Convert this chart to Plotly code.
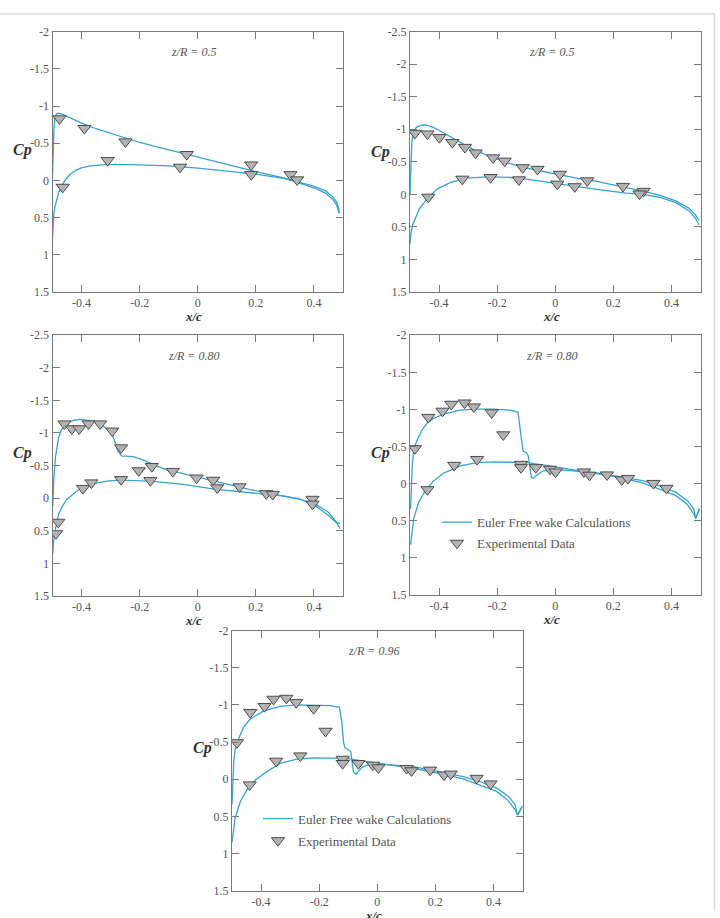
import plotly.graph_objects as go

W, H = 720, 918

# ---------------- Panel 1 : z/R = 0.5 (left) ----------------
p1_up_x = [-0.500, -0.498, -0.495, -0.491, -0.486, -0.480, -0.470, -0.450, -0.400, -0.350, -0.300,
           -0.250, -0.200, -0.150, -0.100, -0.050, 0.000, 0.050, 0.100, 0.150, 0.200, 0.250,
           0.300, 0.350, 0.400, 0.440, 0.465, 0.478, 0.485, 0.487]
p1_up_cp = [-0.05, -0.40, -0.70, -0.85, -0.895, -0.905, -0.895, -0.86, -0.77, -0.695, -0.63,
            -0.565, -0.51, -0.46, -0.41, -0.36, -0.31, -0.265, -0.215, -0.165, -0.12, -0.075,
            -0.03, 0.035, 0.10, 0.17, 0.255, 0.33, 0.40, 0.44]
p1_lo_x = [-0.500, -0.499, -0.496, -0.492, -0.486, -0.478, -0.468, -0.455, -0.440, -0.420, -0.400,
           -0.370, -0.330, -0.280, -0.200, -0.100, 0.000, 0.100, 0.200, 0.300, 0.350, 0.400,
           0.440, 0.465, 0.478, 0.485, 0.487]
p1_lo_cp = [0.80, 0.62, 0.47, 0.36, 0.25, 0.15, 0.07, -0.01, -0.08, -0.135, -0.17,
            -0.195, -0.21, -0.215, -0.21, -0.195, -0.165, -0.125, -0.085, -0.025, 0.02, 0.075,
            0.14, 0.22, 0.29, 0.37, 0.44]
p1_exp_x = [-0.476, -0.390, -0.249, -0.038, 0.184, 0.319, 0.342, -0.465, -0.310, -0.061, 0.184]
p1_exp_cp = [-0.83, -0.70, -0.52, -0.35, -0.21, -0.08, -0.01, 0.09, -0.27, -0.18, -0.08]

# ---------------- Panel 2 : z/R = 0.5 (right) ----------------
p2_up_x = [-0.500, -0.497, -0.494, -0.490, -0.484, -0.475, -0.463, -0.455, -0.440, -0.420, -0.400,
           -0.383, -0.350, -0.326, -0.300, -0.269, -0.240, -0.212, -0.155, -0.098, -0.041, 0.016,
           0.073, 0.130, 0.187, 0.244, 0.301, 0.358, 0.415, 0.460, 0.483, 0.495]
p2_up_cp = [0.00, -0.45, -0.78, -0.93, -1.00, -1.04, -1.062, -1.066, -1.06, -1.03, -0.985,
            -0.94, -0.85, -0.79, -0.73, -0.665, -0.61, -0.563, -0.472, -0.402, -0.352, -0.30,
            -0.25, -0.21, -0.16, -0.11, -0.05, 0.01, 0.10, 0.21, 0.32, 0.40]
p2_lo_x = [-0.500, -0.497, -0.491, -0.485, -0.468, -0.440, -0.406, -0.360, -0.303, -0.235, -0.155,
           -0.098, 0.016, 0.130, 0.244, 0.301, 0.358, 0.415, 0.460, 0.483, 0.495]
p2_lo_cp = [0.77, 0.60, 0.47, 0.40, 0.22, 0.06, -0.085, -0.186, -0.25, -0.27, -0.26,
            -0.236, -0.16, -0.085, -0.02, 0.0, 0.04, 0.126, 0.25, 0.37, 0.47]
p2_exp_x = [-0.483, -0.440, -0.399, -0.354, -0.311, -0.274, -0.214, -0.174, -0.112, -0.061, 0.016,
            0.110, 0.233, 0.304, -0.437, -0.320, -0.223, -0.125, 0.007, 0.067, 0.290]
p2_exp_cp = [-0.94, -0.93, -0.875, -0.80, -0.724, -0.638, -0.563, -0.513, -0.412, -0.387, -0.311,
             -0.211, -0.125, -0.05, 0.041, -0.236, -0.261, -0.226, -0.160, -0.120, -0.009]

# ---------------- Panel 3 : z/R = 0.80 (left) ----------------
p3_up_x = [-0.499, -0.496, -0.490, -0.484, -0.479, -0.470, -0.460, -0.445, -0.425, -0.405, -0.385,
           -0.370, -0.336, -0.313, -0.291, -0.274, -0.262, -0.240, -0.222, -0.188, -0.154, -0.108,
           -0.051, 0.006, 0.063, 0.120, 0.177, 0.234, 0.291, 0.348, 0.405, 0.450, 0.473, 0.490]
p3_up_cp = [0.12, -0.25, -0.62, -0.82, -0.93, -1.04, -1.11, -1.165, -1.195, -1.207, -1.20,
            -1.19, -1.14, -1.066, -0.94, -0.714, -0.65, -0.645, -0.638, -0.588, -0.513, -0.437,
            -0.377, -0.311, -0.246, -0.186, -0.135, -0.085, -0.035, 0.016, 0.09, 0.217, 0.343, 0.47]
p3_lo_x = [-0.499, -0.496, -0.490, -0.479, -0.467, -0.450, -0.416, -0.370, -0.313, -0.268, -0.165,
           -0.051, 0.063, 0.177, 0.234, 0.291, 0.348, 0.405, 0.450, 0.473, 0.490]
p3_lo_cp = [0.85, 0.65, 0.47, 0.25, 0.13, 0.016, -0.11, -0.21, -0.26, -0.276, -0.26,
            -0.21, -0.135, -0.085, -0.06, -0.035, 0.006, 0.116, 0.267, 0.36, 0.39]
p3_exp_x = [-0.459, -0.433, -0.408, -0.376, -0.336, -0.294, -0.264, -0.203, -0.158, -0.086, -0.004,
            0.053, 0.144, 0.236, 0.258, 0.395, 0.395, -0.480, -0.488, -0.395, -0.366, -0.264,
            -0.163, 0.067]
p3_exp_cp = [-1.141, -1.066, -1.066, -1.141, -1.141, -1.031, -0.774, -0.422, -0.487, -0.412, -0.311,
             -0.276, -0.175, -0.070, -0.060, 0.016, 0.09, 0.368, 0.544, -0.150, -0.236, -0.286,
             -0.271, -0.160]

# ---------------- Panel 4 : z/R = 0.80 (right) ----------------
p4_up_x = [-0.498, -0.495, -0.492, -0.488, -0.482, -0.475, -0.458, -0.441, -0.418, -0.384, -0.327,
           -0.270, -0.213, -0.156, -0.128, -0.122, -0.116, -0.111, -0.099, -0.093, -0.082, -0.076,
           -0.059, -0.042, 0.015, 0.072, 0.129, 0.186, 0.243, 0.300, 0.357, 0.414, 0.454, 0.476,
           0.484, 0.496]
p4_up_cp = [0.34, 0.0, -0.25, -0.42, -0.52, -0.59, -0.726, -0.814, -0.88, -0.938, -0.991,
            -1.004, -1.004, -0.991, -0.96, -0.77, -0.549, -0.438, -0.416, -0.372, -0.084, -0.071,
            -0.128, -0.173, -0.186, -0.173, -0.150, -0.119, -0.084, -0.04, 0.027, 0.115, 0.226, 0.336,
            0.469, 0.336]
p4_lo_x = [-0.498, -0.487, -0.470, -0.447, -0.418, -0.384, -0.327, -0.270, -0.213, -0.156, -0.099,
           -0.042, 0.015, 0.072, 0.129, 0.186, 0.243, 0.300, 0.357, 0.414, 0.454, 0.476, 0.484, 0.496]
p4_lo_cp = [0.823, 0.469, 0.248, 0.093, -0.04, -0.142, -0.239, -0.283, -0.292, -0.292, -0.283,
            -0.252, -0.217, -0.186, -0.150, -0.106, -0.062, -0.009, 0.071, 0.159, 0.279, 0.403,
            0.469, 0.345]
p4_exp_x = [-0.483, -0.437, -0.388, -0.358, -0.312, -0.280, -0.219, -0.179, -0.118, -0.118, -0.067,
            -0.018, 0.001, 0.099, 0.118, 0.178, 0.229, 0.250, 0.338, 0.383, -0.440, -0.348, -0.269]
p4_exp_cp = [-0.473, -0.894, -0.978, -1.071, -1.088, -1.035, -0.956, -0.659, -0.261, -0.217, -0.217,
             -0.195, -0.159, -0.159, -0.115, -0.119, -0.053, -0.071, -0.004, 0.062, 0.080, -0.248,
             -0.327]

# ---------------- Panel 5 : z/R = 0.96 ----------------
p5_up_x = [-0.500, -0.494, -0.489, -0.477, -0.460, -0.437, -0.391, -0.334, -0.277, -0.219, -0.162,
           -0.130, -0.122, -0.116, -0.111, -0.099, -0.091, -0.082, -0.073, -0.053, -0.036, 0.010,
           0.067, 0.124, 0.181, 0.239, 0.296, 0.353, 0.411, 0.451, 0.474, 0.483, 0.500]
p5_up_cp = [0.341, -0.235, -0.41, -0.545, -0.70, -0.81, -0.92, -0.98, -1.0, -1.0, -0.99,
            -0.967, -0.767, -0.50, -0.42, -0.40, -0.37, -0.10, -0.067, -0.155, -0.19, -0.204,
            -0.19, -0.168, -0.124, -0.08, -0.035, 0.031, 0.12, 0.23, 0.34, 0.483, 0.355]
p5_lo_x = [-0.500, -0.489, -0.471, -0.448, -0.420, -0.380, -0.334, -0.277, -0.219, -0.162, -0.105,
           -0.048, 0.010, 0.067, 0.124, 0.181, 0.239, 0.296, 0.353, 0.411, 0.451, 0.474, 0.483, 0.500]
p5_lo_cp = [0.851, 0.519, 0.297, 0.142, 0.009, -0.102, -0.213, -0.27, -0.288, -0.288, -0.279,
            -0.244, -0.213, -0.182, -0.146, -0.102, -0.058, -0.004, 0.075, 0.164, 0.288, 0.408,
            0.483, 0.364]
p5_exp_x = [-0.483, -0.437, -0.388, -0.357, -0.313, -0.279, -0.219, -0.178, -0.119, -0.119, -0.065,
            -0.015, 0.004, 0.101, 0.118, 0.182, 0.230, 0.253, 0.342, 0.390, -0.439, -0.348, -0.265]
p5_exp_cp = [-0.492, -0.900, -0.980, -1.078, -1.091, -1.033, -0.953, -0.647, -0.270, -0.213, -0.213,
             -0.191, -0.155, -0.146, -0.115, -0.124, -0.058, -0.071, -0.013, 0.062, 0.075, -0.244,
             -0.315]

x_tickvals = [-0.4, -0.2, 0, 0.2, 0.4]
x_ticktext = ["-0.4", "-0.2", "0", "0.2", "0.4"]
y_tickvals_a = [-2, -1.5, -1, -0.5, 0, 0.5, 1, 1.5]
y_ticktext_a = ["-2", "-1.5", "-1", "-0.5", "0", "0.5", "1", "1.5"]
y_tickvals_b = [-2.5, -2, -1.5, -1, -0.5, 0, 0.5, 1, 1.5]
y_ticktext_b = ["-2.5", "-2", "-1.5", "-1", "-0.5", "0", "0.5", "1", "1.5"]
titles = ["z/R = 0.5", "z/R = 0.5", "z/R = 0.80", "z/R = 0.80", "z/R = 0.96"]
legend_line_name = "Euler Free wake Calculations"
legend_marker_name = "Experimental Data"

LINE_C = "#3aa2cb"
MFILL = "#b3b3b3"
MLINE = "#4d4d4d"
AXC = "#7a7a7a"
TXT = "#555555"
SERIF = "Liberation Serif"

# pixel boxes of panels: (left, right, top, bottom)
boxes = [(52.5, 343.0, 25.0, 289.5),
         (410.0, 700.5, 25.0, 289.5),
         (52.5, 343.0, 333.3, 598.0),
         (410.0, 700.5, 333.3, 597.0),
         (232.0, 522.5, 633.3, 897.3)]
yranges = [[1.5, -2], [1.5, -2.5], [1.5, -2.5], [1.5, -2], [1.5, -2]]
cp_pos = [(22, 145), (380, 147), (22, 453), (380, 453), (202, 752)]

panels = [
    (p1_up_x, p1_up_cp, p1_lo_x, p1_lo_cp, p1_exp_x, p1_exp_cp),
    (p2_up_x, p2_up_cp, p2_lo_x, p2_lo_cp, p2_exp_x, p2_exp_cp),
    (p3_up_x, p3_up_cp, p3_lo_x, p3_lo_cp, p3_exp_x, p3_exp_cp),
    (p4_up_x, p4_up_cp, p4_lo_x, p4_lo_cp, p4_exp_x, p4_exp_cp),
    (p5_up_x, p5_up_cp, p5_lo_x, p5_lo_cp, p5_exp_x, p5_exp_cp),
]

fig = go.Figure()
marker = dict(symbol="triangle-down", size=11.5, color=MFILL, line=dict(color=MLINE, width=1))
lineprops = dict(color=LINE_C, width=1.3)

annotations = []
for i, (ux, ucp, lx, lcp, ex, ecp) in enumerate(panels):
    n = "" if i == 0 else str(i + 1)
    xa, ya = "x" + n, "y" + n
    fig.add_trace(go.Scatter(x=ux, y=ucp, mode="lines", line=lineprops, xaxis=xa, yaxis=ya,
                             showlegend=False, hoverinfo="skip"))
    fig.add_trace(go.Scatter(x=lx, y=lcp, mode="lines", line=lineprops, xaxis=xa, yaxis=ya,
                             showlegend=False, hoverinfo="skip"))
    fig.add_trace(go.Scatter(x=ex, y=ecp, mode="markers", marker=marker, xaxis=xa, yaxis=ya,
                             showlegend=False))
    l, r, t, b = boxes[i]
    tv, tt = (y_tickvals_a, y_ticktext_a) if yranges[i][1] == -2 else (y_tickvals_b, y_ticktext_b)
    common = dict(showline=True, linecolor=AXC, linewidth=1, mirror="ticks", ticks="inside",
                  ticklen=7, tickcolor=AXC, tickwidth=1, showgrid=False, zeroline=False,
                  tickfont=dict(family=SERIF, size=12, color=TXT))
    fig.layout["xaxis" + n] = dict(domain=[l / W, r / W], range=[-0.5, 0.5], anchor=ya,
                                   tickmode="array", tickvals=x_tickvals, ticktext=x_ticktext, **common)
    fig.layout["yaxis" + n] = dict(domain=[1 - b / H, 1 - t / H], range=yranges[i], anchor=xa,
                                   tickmode="array", tickvals=tv, ticktext=tt, **common)
    cx = (l + r) / 2 - 4
    annotations.append(dict(text=titles[i], x=cx / W, y=1 - (t + 21) / H, xref="paper", yref="paper",
                            showarrow=False, xanchor="center", yanchor="middle",
                            font=dict(family=SERIF, size=12, color=TXT, style="italic")))
    annotations.append(dict(text="x/c", x=cx / W, y=1 - (b + 25) / H, xref="paper", yref="paper",
                            showarrow=False, xanchor="center", yanchor="middle",
                            font=dict(family=SERIF, size=13, color="#333", style="italic", weight="bold")))
    annotations.append(dict(text="Cp", x=cp_pos[i][0] / W, y=1 - cp_pos[i][1] / H, xref="paper",
                            yref="paper", showarrow=False, xanchor="center", yanchor="middle",
                            font=dict(family=SERIF, size=16, color="#333", style="italic", weight="bold")))

# legend entries (panels 4 and 5)
for lg in ["legend", "legend2"]:
    fig.add_trace(go.Scatter(x=[None], y=[None], mode="lines", line=lineprops, name=legend_line_name,
                             legend=lg, legendgroup=lg + "a", xaxis="x4", yaxis="y4"))
    fig.add_trace(go.Scatter(x=[None], y=[None], mode="markers", marker=marker, name=legend_marker_name,
                             legend=lg, legendgroup=lg + "b", xaxis="x4", yaxis="y4"))

legfont = dict(family=SERIF, size=13, color=TXT)
fig.update_layout(
    legend=dict(x=437 / W, y=1 - 508 / H, xanchor="left", yanchor="top", bgcolor="rgba(0,0,0,0)",
                font=legfont, traceorder="grouped", tracegroupgap=1, itemwidth=30),
    legend2=dict(x=258 / W, y=1 - 809 / H, xanchor="left", yanchor="top", bgcolor="rgba(0,0,0,0)",
                 font=legfont, traceorder="grouped", tracegroupgap=2, itemwidth=30),
)

shapes = [
    dict(type="line", xref="paper", yref="paper", x0=0, x1=714.5 / W, y0=1 - 7 / H, y1=1 - 7 / H,
         line=dict(color="#dcdcdc", width=1.5)),
    dict(type="line", xref="paper", yref="paper", x0=714.5 / W, x1=714.5 / W, y0=1 - 7 / H, y1=0,
         line=dict(color="#dcdcdc", width=1.5)),
]

fig.update_layout(width=W, height=H, margin=dict(l=0, r=0, t=0, b=0), paper_bgcolor="white",
                  plot_bgcolor="white", annotations=annotations, shapes=shapes, showlegend=True)

fig.write_html("out.html")
